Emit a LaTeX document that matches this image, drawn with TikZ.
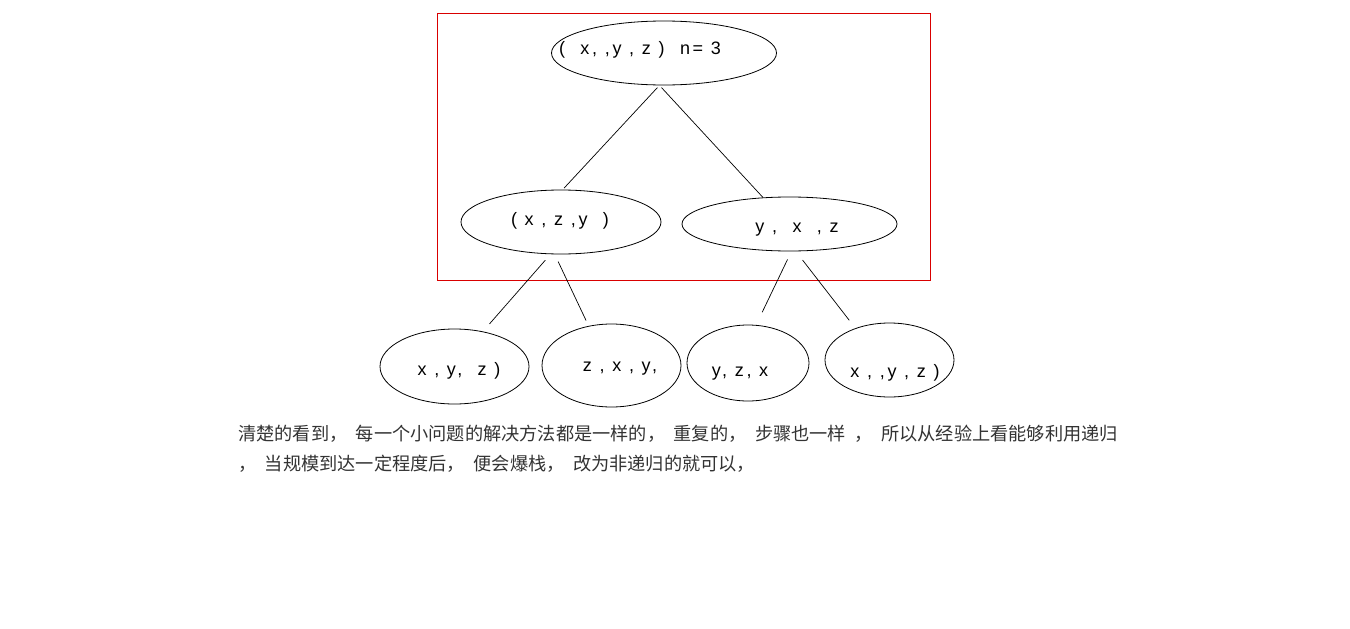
\documentclass[tikz,border=0pt]{standalone}
\usepackage{fontspec}
\setmainfont{Liberation Sans}
\newfontfamily\cjk{Noto Sans CJK SC}
\newfontfamily\handfont[LetterSpace=15]{Liberation Sans}
\newcommand\notefont{\cjk\fontsize{18.2}{20}\selectfont\spaceskip=8.5pt\relax}
\usetikzlibrary{shapes.geometric}

\begin{document}
\begin{tikzpicture}[
    x=1pt,y=-1pt,
    oval/.style={draw,ellipse,inner sep=0pt,line width=0.8pt},
    hand/.style={font=\handfont\fontsize{18}{20}\selectfont,inner sep=0pt},
    edge/.style={line width=0.7pt},
    note/.style={font=\notefont,text=black!80,anchor=west,inner sep=0pt}
  ]
    \useasboundingbox (0,0) rectangle (1350,629);
    % frame round the first two levels
    \draw[red!85!black,line width=0.8pt] (437,13) rectangle (930,280);
    % the call tree
    \node[oval,minimum width=225,minimum height=64] (root) at (664,53) {};
    \node[oval,minimum width=200,minimum height=64] (lmid) at (561,222) {};
    \node[oval,minimum width=215,minimum height=54] (rmid) at (789.5,224) {};
    \node[oval,minimum width=149,minimum height=75] (leafa) at (454.5,366.5) {};
    \node[oval,minimum width=139,minimum height=83] (leafb) at (611.5,365.5) {};
    \node[oval,minimum width=122,minimum height=76] (leafc) at (748,363) {};
    \node[oval,minimum width=129,minimum height=74] (leafd) at (889.5,360) {};
    % texts in the ovals
    \node[hand] (rootT) at (640,50) {(\ \ x,\ ,y\ ,\ z\ )\ \ n= 3};
    \node[hand] (lmidT) at (560,221) {(\ x\ ,\ z\ ,y\ \ )};
    \node[hand] (rmidT) at (797,230) {y\ ,\ \ x\ \ ,\ z};
    \node[hand] (leafaT) at (459,371) {x\ ,\ y,\ \ z\ )};
    \node[hand] (leafbT) at (620,369) {z\ ,\ x\ ,\ y,};
    \node[hand] (leafcT) at (740,374) {y,\ z,\ x};
    \node[hand] (leafdT) at (895,373) {x\ ,\ ,y\ ,\ z\ )};
    % connectors
    \draw[edge,shorten <=3,shorten >=2] (root.262) -- (lmid.87);
    \draw[edge,shorten <=3] (root.262) -- (rmid.135);
    \draw[edge,shorten <=8,shorten >=10] (lmid.252) -- (leafa.51);
    \draw[edge,shorten <=8,shorten >=6] (lmid.259) -- (leafb.120);
    \draw[edge,shorten <=9,shorten >=14] (rmid.274) -- (leafc.78);
    \draw[edge,shorten <=11,shorten >=10] (rmid.283) -- (leafd.137);
    % remark below
    \node[note] (lineA) at (238,434) {清楚的看到， 每一个小问题的解决方法都是一样的， 重复的， 步骤也一样 ， 所以从经验上看能够利用递归};
    \node[note] (lineB) at (238,464) {， 当规模到达一定程度后， 便会爆栈， 改为非递归的就可以，};
  \end{tikzpicture}
\end{document}
